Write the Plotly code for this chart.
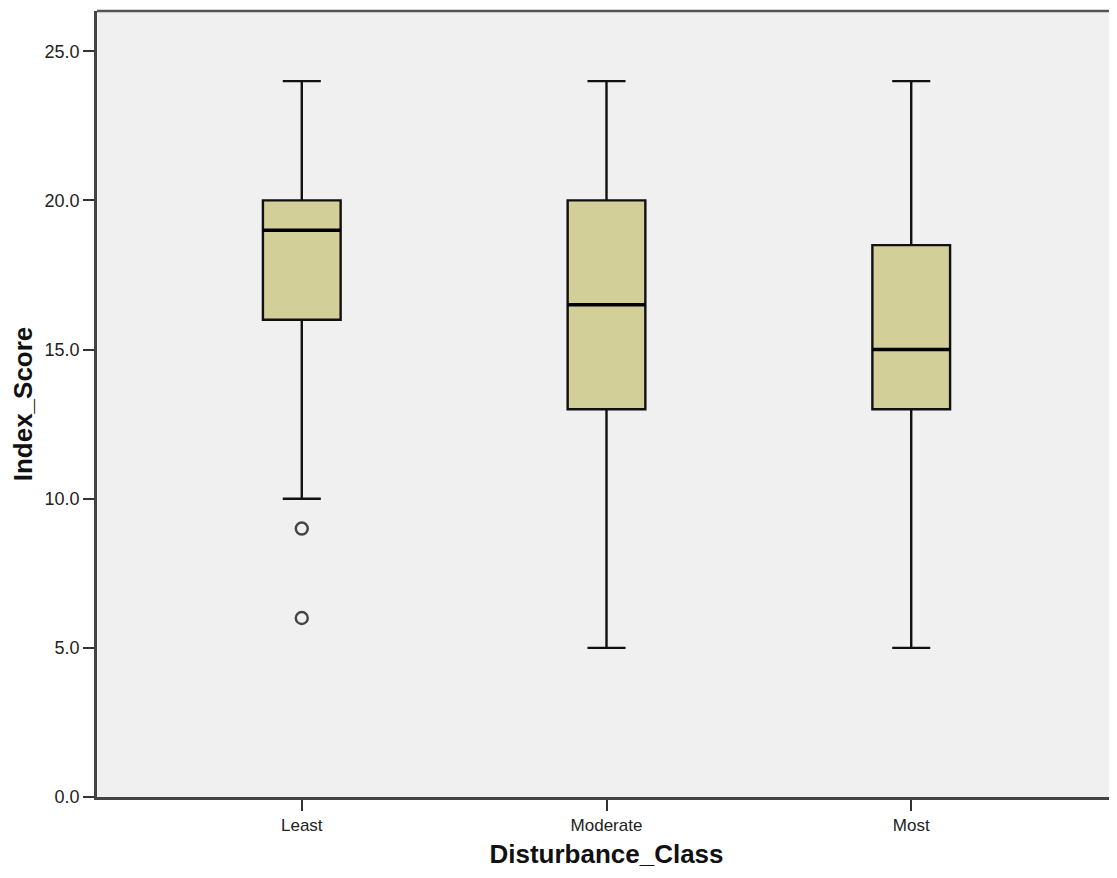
import plotly.graph_objects as go

categories = ["Least", "Moderate", "Most"]
q1 = [16.0, 13.0, 13.0]
median = [19.0, 16.5, 15.0]
q3 = [20.0, 20.0, 18.5]
lower = [10.0, 5.0, 5.0]
upper = [24.0, 24.0, 24.0]
outlier_cat = ["Least", "Least"]
outlier_val = [9.0, 6.0]
yticks = [0.0, 5.0, 10.0, 15.0, 20.0, 25.0]

pos = list(range(len(categories)))
box_w = 0.255

fig = go.Figure()
fig.add_trace(go.Box(
    x=pos, q1=q1, median=median, q3=q3, lowerfence=lower, upperfence=upper,
    width=box_w, whiskerwidth=0.49,
    fillcolor="#D3CF98", line=dict(color="#111111", width=2.4),
    boxpoints=False, showlegend=False, hoverinfo="skip",
))
# thicker median lines
mx, my = [], []
for p, m in zip(pos, median):
    mx += [p - box_w / 2, p + box_w / 2, None]
    my += [m, m, None]
fig.add_trace(go.Scatter(x=mx, y=my, mode="lines",
                         line=dict(color="#000000", width=3.5),
                         showlegend=False, hoverinfo="skip"))
fig.add_trace(go.Scatter(
    x=[categories.index(c) for c in outlier_cat], y=outlier_val, mode="markers",
    marker=dict(symbol="circle-open", size=12, color="#444444", line=dict(width=2.4)),
    showlegend=False, hoverinfo="skip"))

fig.update_layout(
    width=1109, height=870,
    margin=dict(l=89, r=1, t=3, b=81),
    paper_bgcolor="white", plot_bgcolor="#F0F0F0",
    font=dict(family="Liberation Sans, Arial, sans-serif", color="#222222"),
)
fig.update_xaxes(
    range=[-0.672, 2.672], tickvals=pos, ticktext=categories,
    tickfont=dict(size=17), ticks="outside", ticklen=11, tickwidth=2, tickcolor="#333333",
    showline=True, linecolor="#444444", linewidth=2.5, mirror=False,
    showgrid=False, zeroline=False,
    title=dict(text="<b>Disturbance_Class</b>", font=dict(size=26, color="#111111"), standoff=11),
)
fig.update_yaxes(
    range=[0, 26.35], tickvals=yticks, ticktext=[f"{v:.1f}" for v in yticks],
    tickfont=dict(size=18), ticks="outside", ticklen=11, tickwidth=2, tickcolor="#333333",
    showline=True, linecolor="#444444", linewidth=2.5,
    showgrid=False, zeroline=False,
    title=dict(text="<b>Index_Score</b>", font=dict(size=26, color="#111111"), standoff=6),
)
fig.add_shape(type="line", xref="paper", yref="paper", x0=0, x1=1, y0=1, y1=1,
              line=dict(color="#555555", width=2.5))
fig.write_html("out.html")
